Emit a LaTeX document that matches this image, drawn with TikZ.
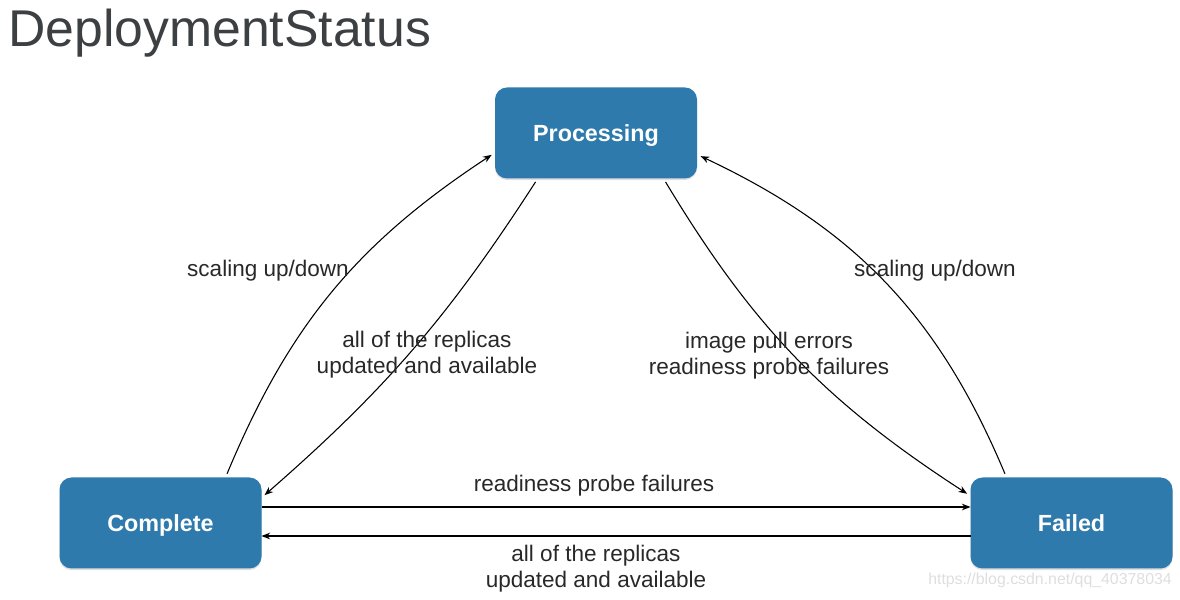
\documentclass[tikz,border=0pt]{standalone}
\usepackage{fontspec}
\setmainfont{Liberation Sans}
\usetikzlibrary{arrows.meta, shadows}

\definecolor{stateblue}{RGB}{47,122,173}
\definecolor{labelgray}{RGB}{40,40,40}
\definecolor{titlegray}{RGB}{61,64,67}
\definecolor{markgray}{RGB}{222,222,222}

\begin{document}
\begin{tikzpicture}[
		x=0.75pt, y=0.75pt,
		>={Stealth[length=6.5pt,width=5pt]},
		state/.style={
			rectangle, rounded corners=9pt, fill=stateblue, text=white,
			font=\bfseries\fontsize{17.5}{21}\selectfont,
			text height=12.5pt, text depth=0pt,
			minimum width=151.5pt, minimum height=68.25pt, inner sep=0pt, outer sep=0pt,
			drop shadow={opacity=0.25, shadow xshift=0pt, shadow yshift=-1.2pt}
		},
		trans/.style={->, line width=0.8pt, shorten <=3pt, shorten >=3pt},
		edgelabel/.style={text=labelgray, font=\fontsize{16.9}{19.5}\selectfont, align=center, inner sep=0pt}
	]
	\useasboundingbox (0,0) rectangle (1180,599);
	
	% Title
	\node[anchor=base west, inner sep=0pt, text=titlegray, font=\fontsize{38.8}{44}\selectfont] (title) at (8,552) {DeploymentStatus};
	
	% States
	\node[state] (processing) at (596,466) {Processing};
	\node[state] (complete) at (160.5,76) {Complete};
	\node[state] (failed) at (1071.5,76) {Failed};
	
	% Transitions between Complete and Processing
	\draw[trans] (complete.35) to[bend left=17] (processing.191);
	\draw[trans] (processing.218) to[bend left=8] (complete.14);
	
	% Transitions between Processing and Failed
	\draw[trans] (processing.-34) to[bend right=13] (failed.165);
	\draw[trans] (failed.145) to[bend right=21] (processing.-12);
	
	% Transitions between Complete and Failed
	\draw[->, line width=0.8pt] ([yshift=12pt]complete.east) -- ([yshift=12pt]failed.west);
	\draw[->, line width=0.8pt] ([yshift=-9.75pt]failed.west) -- ([yshift=-9.75pt]complete.east);
	
	% Labels
	\node[edgelabel] (scaleleft) at (268,328) {scaling up/down};
	\node[edgelabel] (scaleright) at (935,328) {scaling up/down};
	\node[edgelabel] (doneleft) at (427,244) {all of the replicas\\updated and available};
	\node[edgelabel] (errors) at (769,243) {image pull errors\\readiness probe failures};
	\node[edgelabel] (probe) at (594,113) {readiness probe failures};
	\node[edgelabel] (donebottom) at (596,30) {all of the replicas\\updated and available};
	
	% Watermark
	\node[text=markgray, inner sep=0pt, font=\fontsize{11.9}{14}\selectfont] (mark) at (1050,19) {https://blog.csdn.net/qq\_40378034};
	
\end{tikzpicture}
\end{document}
